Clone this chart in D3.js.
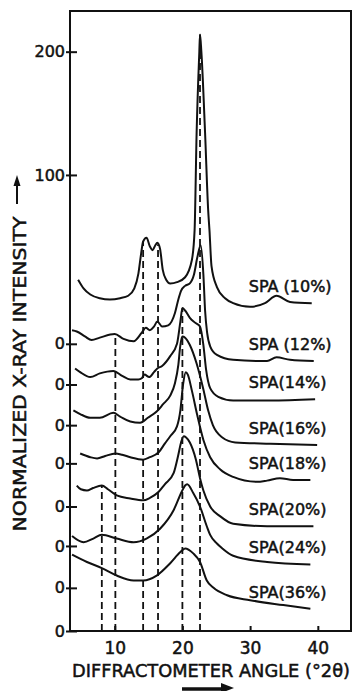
<!DOCTYPE html>
<html>
<head>
<meta charset="utf-8">
<script src="https://cdn.jsdelivr.net/npm/d3@7"></script>
<style>
  html, body { margin: 0; padding: 0; background: #fff; }
  svg { display: block; }
</style>
</head>
<body>
<div id="chart"></div>
<script>
// curve names, top to bottom
const seriesNames = ['SPA (10%)', 'SPA (12%)', 'SPA(14%)', 'SPA(16%)', 'SPA(18%)', 'SPA(20%)', 'SPA(24%)', 'SPA(36%)'];
// each curve sits on one of the "0" ticks (normalized intensity units)
const baselines = [233, 200, 167, 136, 101, 69, 35, 0];

// [2theta, intensity above own baseline]
const spa10 = [[4.6, 52], [5.4, 45], [6.4, 40], [7.8, 37], [9.3, 36], [10.8, 37], [12.0, 39], [12.9, 45], [13.5, 57], [13.9, 73], [14.2, 83], [14.7, 86], [15.2, 79], [15.6, 76], [16.0, 80], [16.3, 82], [16.7, 77], [17.1, 60], [17.6, 52], [18.2, 49], [19.2, 50], [20.4, 54], [21.4, 68], [21.8, 92], [22.1, 171], [22.5, 237], [22.6, 251], [22.8, 237], [23.35, 171], [23.8, 109], [24.0, 92], [24.3, 63], [25.1, 46], [26.3, 37], [27.5, 33], [30.0, 30], [32.2, 33], [33.9, 39], [35.9, 34], [39.1, 33]];
const spa12 = [[3.7, 44], [4.4, 43], [5.6, 39], [6.6, 36], [7.8, 38], [10.0, 41], [11.3, 37], [12.8, 35], [14.0, 42], [14.6, 46], [15.2, 44], [15.8, 47], [16.3, 51], [17.0, 47], [17.9, 48], [18.9, 58], [19.4, 69], [19.8, 76], [20.4, 80], [21.1, 82], [21.7, 89], [22.2, 103], [22.7, 113], [23.1, 89], [23.35, 60], [23.65, 42], [24.1, 31], [25.1, 24], [27.5, 20], [32.5, 19], [33.9, 22], [35.9, 20], [39.4, 19]];
const spa14 = [[4.15, 46], [4.9, 43], [6.4, 39], [7.8, 42], [9.8, 44], [11.1, 40], [12.3, 37], [13.5, 37], [14.0, 38], [14.4, 41], [15.1, 39], [15.8, 43], [16.3, 46], [17.0, 48], [18.2, 56], [19.2, 66], [19.7, 84], [20.0, 95], [20.4, 93], [21.1, 87], [21.9, 83], [22.6, 80], [23.1, 65], [23.5, 45], [24.1, 30], [25.3, 23], [27.5, 20], [33.0, 20], [39.6, 21]];
const spa16 = [[3.9, 43], [4.9, 40], [6.4, 37], [7.8, 37], [9.8, 41], [10.8, 38], [12.3, 34], [13.75, 33], [14.9, 37], [16.2, 42], [17.15, 48], [18.2, 55], [18.9, 65], [19.4, 80], [19.7, 96], [20.0, 103], [20.4, 102], [21.1, 96], [22.1, 81], [23.1, 60], [23.8, 43], [24.5, 31], [25.9, 21], [27.8, 17], [33.0, 16], [39.9, 15]];
const spa18 = [[4.9, 43], [6.4, 40], [7.4, 39], [8.6, 41], [10.1, 43], [11.1, 42], [12.3, 40], [14.2, 38], [15.2, 40], [16.5, 44], [17.4, 51], [18.2, 57], [19.2, 65], [19.7, 78], [20.1, 99], [20.5, 109], [20.8, 107], [21.4, 94], [22.2, 74], [23.1, 54], [24.1, 40], [25.6, 30], [27.5, 24], [31.0, 20], [32.5, 21], [34.4, 23], [36.35, 21.5], [38.9, 21.5]];
const spa20 = [[4.4, 49], [5.0, 46], [5.9, 45], [6.8, 47], [8.1, 49], [9.0, 46], [10.3, 41], [12.3, 38.5], [14.2, 37], [15.2, 39], [16.5, 44], [17.4, 50], [18.7, 59], [19.4, 74], [19.8, 84], [20.2, 89], [20.55, 88], [21.1, 84], [22.0, 70], [22.6, 55], [23.1, 45], [24.1, 32], [25.6, 24], [27.5, 18], [32.5, 16], [39.35, 16]];
const spa24 = [[3.7, 42], [5.4, 37], [6.85, 40], [8.1, 43], [10.3, 40], [12.8, 37], [14.7, 40], [16.7, 48], [18.7, 63], [19.9, 78], [20.4, 83], [20.7, 84], [21.6, 77], [22.6, 66], [23.6, 50], [24.1, 43], [25.1, 36], [25.9, 32], [27.5, 26], [32.5, 21], [38.9, 19]];
const spa36 = [[3.7, 62], [5.9, 56], [8.1, 51], [10.3, 45], [12.8, 41], [14.2, 41], [16.2, 45], [18.2, 55], [19.7, 64], [20.4, 67], [21.6, 63], [22.6, 56], [23.6, 41], [24.6, 35], [26.6, 29], [30.0, 25], [34.9, 21], [38.9, 18]];
const seriesValues = [spa10, spa12, spa14, spa16, spa18, spa20, spa24, spa36];

// reflection positions (2theta) marked by dashed lines, and the curve each one reaches up to
const dashedAngles = [8.1, 10.1, 14.2, 16.4, 20.0, 22.6];
const dashedReach = ['SPA(20%)', 'SPA (12%)', 'SPA (10%)', 'SPA (10%)', 'SPA(14%)', 'SPA (10%)'];

const xTickValues = [10, 20, 30, 40];
const scaleTickValues = [370, 470];
const scaleTickLabels = ['100', '200'];

const width = 352, height = 691;
const ink = '#111';
const font = '"DejaVu Sans", sans-serif';

const svg = d3.select('#chart').append('svg')
    .attr('width', width)
    .attr('height', height);
svg.append('rect')
    .attr('width', width)
    .attr('height', height)
    .style('fill', '#fff');

const x = d3.scaleLinear().domain([3.4, 44.9]).range([70, 351]);
const y = d3.scaleLinear().domain([0, 503]).range([631, 11]);

// frame
svg.append('rect')
    .attr('x', x.range()[0])
    .attr('y', y.range()[1])
    .attr('width', x.range()[1] - x.range()[0])
    .attr('height', y.range()[0] - y.range()[1])
    .style('fill', 'none')
    .style('stroke', ink)
    .style('stroke-width', 2);

// bottom axis
const gx = svg.append('g')
    .attr('transform', `translate(0,${y(0)})`)
    .call(d3.axisBottom(x).tickValues(xTickValues).tickSizeInner(-5).tickSizeOuter(0).tickPadding(11));
gx.select('.domain').remove();
gx.selectAll('.tick line').attr('stroke', ink).attr('stroke-width', 2);
gx.selectAll('.tick text')
    .attr('fill', ink)
    .style('font-family', font)
    .style('font-size', '17px')
    .attr('stroke', ink)
    .attr('stroke-width', 0.5);

// left axis: one "0" per curve plus the 100 / 200 scale marks
const yTickValues = baselines.concat(scaleTickValues);
const gy = svg.append('g')
    .attr('transform', `translate(${x.range()[0]},0)`)
    .call(d3.axisLeft(y)
        .tickValues(yTickValues)
        .tickFormat(d => scaleTickValues.includes(d) ? scaleTickLabels[scaleTickValues.indexOf(d)] : '0')
        .tickSizeInner(-7).tickSizeOuter(0).tickPadding(5));
gy.select('.domain').remove();
gy.selectAll('.tick line').attr('x1', -4).attr('stroke', ink).attr('stroke-width', 2);
gy.selectAll('.tick text')
    .attr('fill', ink)
    .style('font-family', font)
    .style('font-size', '16px')
    .attr('stroke', ink)
    .attr('stroke-width', 0.5);

function valueAt(points, a) {
    const i = d3.bisector(d => d[0]).left(points, a);
    const p0 = points[Math.max(i - 1, 0)];
    const p1 = points[Math.min(i, points.length - 1)];
    const t = p1[0] === p0[0] ? 0 : (a - p0[0]) / (p1[0] - p0[0]);
    return p0[1] + t * (p1[1] - p0[1]);
}

// dashed reflection lines
svg.append('g').selectAll('line')
    .data(dashedAngles)
    .enter()
    .append('line')
    .attr('x1', d => x(d))
    .attr('x2', d => x(d))
    .attr('y1', y(0))
    .attr('y2', (d, i) => {
        const k = seriesNames.indexOf(dashedReach[i]);
        return y(baselines[k] + valueAt(seriesValues[k], d));
    })
    .style('stroke', ink)
    .style('stroke-width', 1.8)
    .style('stroke-dasharray', '7,4');

// curves
const line = d3.line()
    .curve(d3.curveMonotoneX)
    .x(d => x(d[0]))
    .y(d => y(d[1]));

const curves = svg.append('g').selectAll('.curve')
    .data(seriesNames)
    .enter()
    .append('g')
    .classed('curve', true);
curves.append('path')
    .attr('d', (d, i) => line(seriesValues[i].map(p => [p[0], p[1] + baselines[i]])))
    .style('fill', 'none')
    .style('stroke', ink)
    .style('stroke-width', 2)
    .style('stroke-linejoin', 'round');
curves.append('text')
    .attr('x', x(29.8))
    .attr('y', (d, i) => {
        const pts = seriesValues[i];
        return y(baselines[i] + pts[pts.length - 1][1]) - 11;
    })
    .text(d => d)
    .style('font-family', font)
    .style('font-size', '16px')
    .attr('fill', ink)
    .attr('stroke', ink)
    .attr('stroke-width', 0.5);

// axis titles
svg.append('text')
    .attr('x', 72)
    .attr('y', 677)
    .attr('textLength', 278)
    .attr('lengthAdjust', 'spacingAndGlyphs')
    .text('DIFFRACTOMETER ANGLE (°2θ)')
    .style('font-family', font)
    .style('font-size', '18px')
    .attr('fill', ink)
    .attr('stroke', ink)
    .attr('stroke-width', 0.5);
svg.append('line')
    .attr('x1', 182).attr('x2', 224)
    .attr('y1', 689).attr('y2', 689)
    .style('stroke', ink)
    .style('stroke-width', 3.5);
svg.append('path')
    .attr('d', 'M234,688 L221,683 L221,693 Z')
    .style('fill', ink);

svg.append('text')
    .attr('transform', 'translate(26,374) rotate(-90)')
    .attr('text-anchor', 'middle')
    .attr('textLength', 315)
    .attr('lengthAdjust', 'spacingAndGlyphs')
    .text('NORMALIZED X-RAY INTENSITY')
    .style('font-family', font)
    .style('font-size', '18px')
    .attr('fill', ink)
    .attr('stroke', ink)
    .attr('stroke-width', 0.5);
svg.append('line')
    .attr('x1', 17).attr('x2', 17)
    .attr('y1', 204).attr('y2', 184)
    .style('stroke', ink)
    .style('stroke-width', 2);
svg.append('path')
    .attr('d', 'M17,175 L13.5,186 L20.5,186 Z')
    .style('fill', ink);
</script>
</body>
</html>
